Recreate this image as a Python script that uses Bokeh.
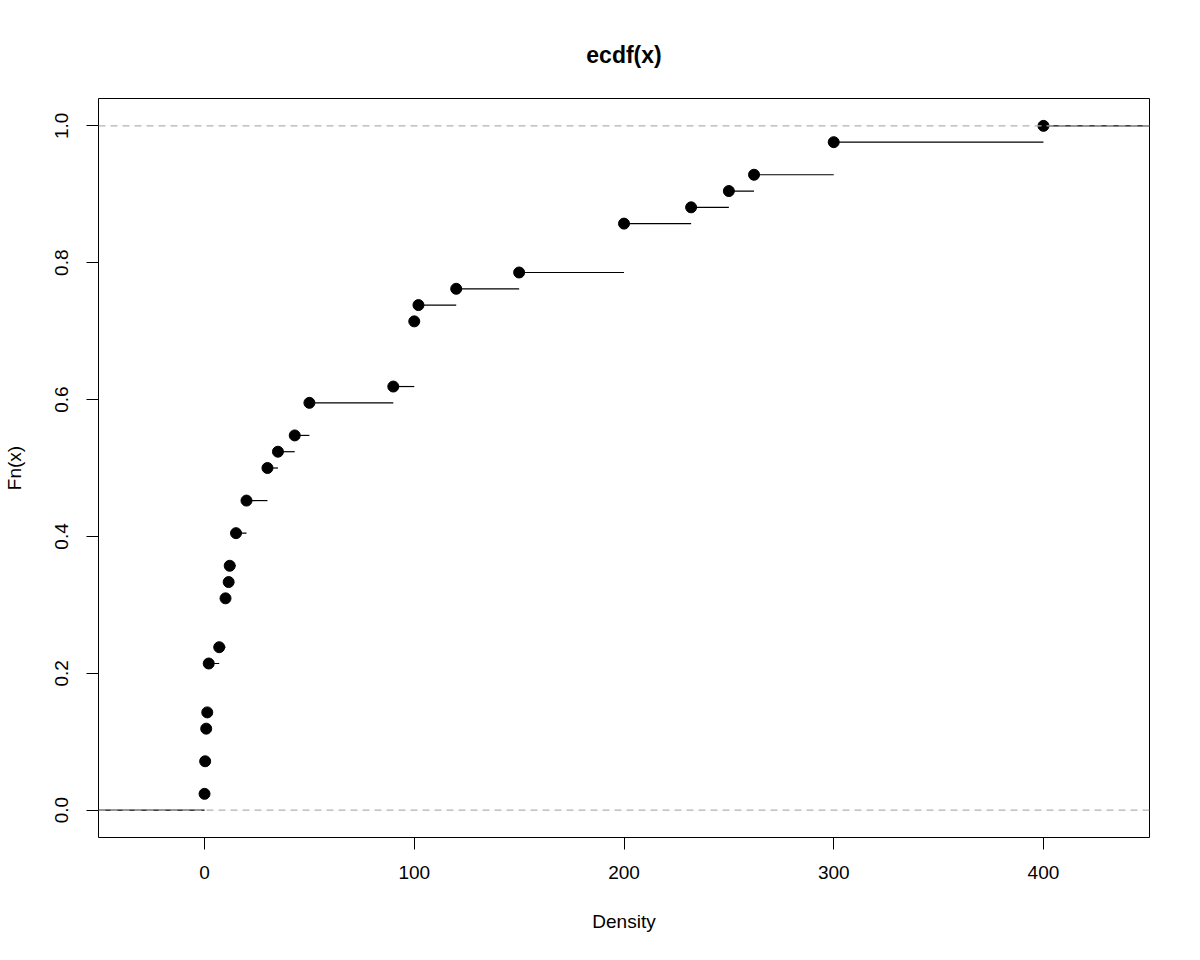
from bokeh.plotting import figure
from bokeh.models import Range1d, FixedTicker, NumeralTickFormatter, Span, ColumnDataSource
from bokeh.embed import file_html
from bokeh.resources import INLINE

# ---- data ----
knots = [0, 0.3, 0.8, 1.3, 2, 7, 10, 11.5, 12, 15, 20, 30, 35, 43, 50,
         90, 100, 102, 120, 150, 200, 232, 250, 262, 300, 400]
cum_counts = [1, 3, 5, 6, 9, 10, 13, 14, 15, 17, 19, 21, 22, 23, 25,
              26, 30, 31, 32, 33, 36, 37, 38, 39, 41, 42]
n_obs = 42
x_ticks = [0, 100, 200, 300, 400]
y_ticks = [0.0, 0.2, 0.4, 0.6, 0.8, 1.0]
title_text = "ecdf(x)"
x_label = "Density"
y_label = "Fn(x)"

fn = [c / n_obs for c in cum_counts]

# R-style limits: stepfun extension then 4% axis padding
span_x = max(knots) - min(knots)
dr = 0.08 * span_x
xlo, xhi = min(knots) - dr, max(knots) + dr
pad = 0.04 * (xhi - xlo)
xlo, xhi = xlo - pad, xhi + pad
ylo, yhi = 0 - 0.04, 1 + 0.04

FONT = "Liberation Sans"

p = figure(width=1184, height=944, output_backend="svg", toolbar_location=None,
           x_range=Range1d(xlo, xhi), y_range=Range1d(ylo, yhi),
           min_border_left=98, min_border_right=35, min_border_top=98, min_border_bottom=107,
           title=title_text)

p.background_fill_color = "white"
p.border_fill_color = "white"
p.outline_line_color = "black"
p.outline_line_width = 1
p.xgrid.visible = False
p.ygrid.visible = False

p.title.align = "center"
p.title.text_font = FONT
p.title.text_font_size = "23px"
p.title.text_font_style = "bold"
p.title.text_color = "black"
p.title.standoff = 62

for ax in (p.xaxis[0], p.yaxis[0]):
    ax.axis_line_color = None
    ax.major_tick_line_color = "black"
    ax.major_tick_line_width = 1
    ax.major_tick_out = 12
    ax.major_tick_in = 0
    ax.minor_tick_line_color = None
    ax.major_label_text_font = FONT
    ax.major_label_text_font_size = "19px"
    ax.major_label_text_color = "black"
    ax.axis_label_text_font = FONT
    ax.axis_label_text_font_size = "19px"
    ax.axis_label_text_font_style = "normal"
    ax.axis_label_text_color = "black"

p.xaxis.ticker = FixedTicker(ticks=x_ticks)
p.yaxis.ticker = FixedTicker(ticks=y_ticks)
p.yaxis.formatter = NumeralTickFormatter(format="0.0")
p.yaxis.major_label_orientation = "vertical"
p.xaxis.axis_label = x_label
p.yaxis.axis_label = y_label
p.xaxis.major_label_standoff = 16
p.xaxis.axis_label_standoff = 29
p.yaxis.major_label_standoff = 18
p.yaxis.axis_label_standoff = 28

# horizontal step segments
seg_x0 = [xlo] + knots
seg_x1 = [knots[0]] + knots[1:] + [xhi]
seg_y = [0.0] + fn
p.segment(x0=seg_x0, y0=seg_y, x1=seg_x1, y1=seg_y, line_color="black", line_width=1.2)

# points
src = ColumnDataSource(dict(x=knots, y=fn))
p.scatter("x", "y", source=src, size=11, fill_color="black", line_color="black")

# gray dashed reference lines
for yv in (0.0, 1.0):
    p.add_layout(Span(location=yv, dimension="width", line_color="#b3b3b3",
                      line_dash="7 5", line_width=1.2))

open("out.html", "w").write(file_html(p, INLINE))
